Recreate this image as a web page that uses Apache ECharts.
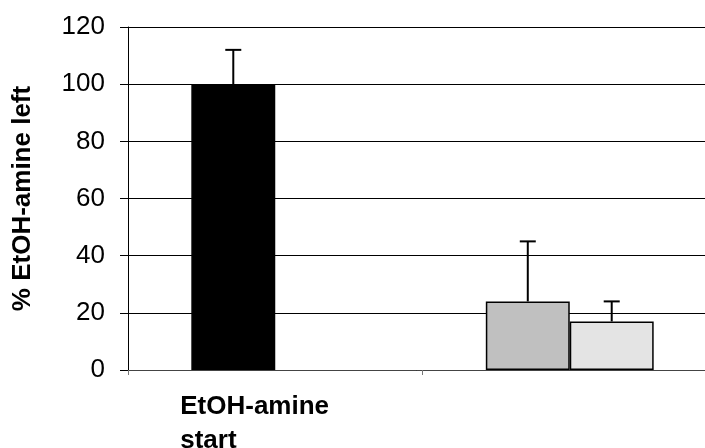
<!DOCTYPE html>
<html>
<head>
<meta charset="utf-8">
<script src="https://cdn.jsdelivr.net/npm/echarts@6/dist/echarts.min.js"></script>
<style>
  html, body { margin: 0; padding: 0; background: #fff; }
  #chart { width: 705px; height: 448px; }
</style>
</head>
<body>
<div id="chart"></div>
<script>
// Category labels (second group has no label)
const categories = ['EtOH-amine\nstart', ''];
// First bar in each group and its upper error
const firstValues = [100, 24];
const firstErrors = [12, 21];
const firstColors = ['#000000', '#c0c0c0'];
// Second bar in each group and its upper error
const secondValues = [null, 17];
const secondErrors = [null, 7];
const secondColor = '#e4e4e4';
// Y axis ticks
const yMin = 0, yMax = 120, yStep = 20;

const CATEGORY_GAP = 0.43;
const FONT = 'Liberation Sans, Arial, sans-serif';

const chart = echarts.init(document.getElementById('chart'), null, { renderer: 'canvas' });

// error bar points: [category index, value, error, slot in group]
const errorPoints = [];
firstValues.forEach((v, i) => { if (v != null) errorPoints.push([i, v, firstErrors[i], 0]); });
secondValues.forEach((v, i) => { if (v != null) errorPoints.push([i, v, secondErrors[i], 1]); });

function renderError(params, api) {
  const ci = api.value(0), v = api.value(1), e = api.value(2), slot = api.value(3);
  const base = api.coord([ci, v]);
  const topY = api.coord([ci, v + e])[1];
  const band = api.size([1, 0])[0];
  const bw = band * (1 - CATEGORY_GAP) / 2;
  const x = base[0] + (slot - 0.5) * bw;
  const style = { stroke: '#000', lineWidth: 2 };
  return {
    type: 'group',
    children: [
      { type: 'line', shape: { x1: x, y1: base[1], x2: x, y2: topY }, style },
      { type: 'line', shape: { x1: x - 8, y1: topY, x2: x + 8, y2: topY }, style }
    ]
  };
}

chart.setOption({
  animation: false,
  backgroundColor: '#fff',
  grid: { left: 128, top: 27, bottom: 78, right: -12, containLabel: false, outerBoundsMode: 'none' },
  xAxis: {
    type: 'category',
    data: categories,
    axisLine: { lineStyle: { color: '#444', width: 1 } },
    axisTick: { show: true, length: 5, lineStyle: { color: '#777' } },
    axisLabel: {
      margin: 20,
      interval: 0,
      formatter: function (val) {
        if (!val) return '';
        return val.split('\n').map(s => '{a|' + s + '}').join('\n');
      },
      rich: {
        a: {
          fontFamily: FONT, fontSize: 26, fontWeight: 'bold', color: '#000',
          align: 'left', width: 190, lineHeight: 34
        }
      }
    }
  },
  yAxis: {
    type: 'value',
    min: yMin, max: yMax, interval: yStep,
    name: '% EtOH-amine left',
    nameLocation: 'middle',
    nameGap: 92,
    nameTextStyle: { fontFamily: FONT, fontSize: 26, fontWeight: 'bold', color: '#000' },
    axisLine: { show: true, lineStyle: { color: '#000', width: 1 } },
    axisTick: { show: true, length: 8, lineStyle: { color: '#000' } },
    axisLabel: { margin: 23, fontFamily: FONT, fontSize: 26, color: '#000' },
    splitLine: { show: true, lineStyle: { color: '#000', width: 1 } }
  },
  series: [
    {
      type: 'bar',
      barGap: '0%',
      barCategoryGap: (CATEGORY_GAP * 100) + '%',
      data: firstValues.map((v, i) => ({ value: v, itemStyle: { color: firstColors[i] } })),
      itemStyle: { borderColor: '#000', borderWidth: 1.5 }
    },
    {
      type: 'bar',
      barGap: '0%',
      barCategoryGap: (CATEGORY_GAP * 100) + '%',
      data: secondValues,
      itemStyle: { color: secondColor, borderColor: '#000', borderWidth: 1.5 }
    },
    {
      type: 'custom',
      renderItem: renderError,
      data: errorPoints,
      z: 5
    }
  ]
});
</script>
</body>
</html>
